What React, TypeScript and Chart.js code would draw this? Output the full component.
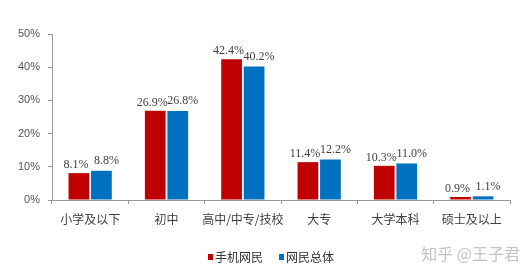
import React, { useEffect, useRef } from "react";
import { Chart, registerables } from "chart.js";

Chart.register(...registerables);

const categories = ["小学及以下", "初中", "高中/中专/技校", "大专", "大学本科", "硕士及以上"];
const mobileUsers = [8.1, 26.9, 42.4, 11.4, 10.3, 0.9];
const allUsers = [8.8, 26.8, 40.2, 12.2, 11.0, 1.1];
const seriesNames = ["手机网民", "网民总体"];
const yTicks = [0, 10, 20, 30, 40, 50];
const watermark = "知乎 @王子君";

const RED = "#C00000";
const BLUE = "#0070C0";
const CJK = '"Noto Sans CJK SC", "Noto Sans", sans-serif';

const overlayPlugin = {
  id: "overlay",
  afterDatasetsDraw(chart: any) {
    const ctx = chart.ctx;
    ctx.save();
    ctx.font = '12px "Liberation Serif", serif';
    ctx.fillStyle = "#404040";
    ctx.textAlign = "center";
    ctx.textBaseline = "bottom";
    const dx = [-3, 5];
    const dy = [2, 4];
    chart.data.datasets.forEach((ds: any, di: number) => {
      const meta = chart.getDatasetMeta(di);
      meta.data.forEach((el: any, i: number) => {
        const v = ds.data[i];
        ctx.fillText(v.toFixed(1) + "%", el.x + dx[di], el.y - dy[di]);
      });
    });
    ctx.restore();
  },
  afterDraw(chart: any) {
    const ctx = chart.ctx;
    ctx.save();
    const colors = [RED, BLUE];
    const starts = [208, 279];
    ctx.font = "12px " + CJK;
    ctx.textBaseline = "middle";
    ctx.textAlign = "left";
    seriesNames.forEach((n, i) => {
      ctx.fillStyle = colors[i];
      ctx.fillRect(starts[i], 254, 5, 6);
      ctx.fillStyle = "#333";
      ctx.fillText(n, starts[i] + 7, 257);
    });
    ctx.font = "16px " + CJK;
    ctx.fillStyle = "#c4c4c4";
    ctx.textAlign = "right";
    ctx.fillText(watermark, 520, 254);
    ctx.restore();
  },
};

export default function App() {
  const ref = useRef<HTMLCanvasElement>(null);
  useEffect(() => {
    if (!ref.current) return;
    const chart = new Chart(ref.current, {
      type: "bar",
      data: {
        labels: categories,
        datasets: [
          { label: seriesNames[0], data: mobileUsers, backgroundColor: RED, categoryPercentage: 0.59, barPercentage: 0.92 },
          { label: seriesNames[1], data: allUsers, backgroundColor: BLUE, categoryPercentage: 0.59, barPercentage: 0.92 },
        ],
      },
      options: {
        responsive: false,
        animation: false,
        layout: { padding: { top: 34, right: 18, left: 0, bottom: 0 } },
        plugins: {
          legend: { display: false },
          tooltip: { enabled: false },
        },
        scales: {
          x: {
            grid: { drawOnChartArea: false, drawTicks: true, tickLength: 4, color: "#999" },
            border: { color: "#999" },
            ticks: { color: "#404040", font: { size: 12, family: CJK }, padding: 8, maxRotation: 0, autoSkip: false },
            afterFit: (s: any) => { s.height = 78; },
          },
          y: {
            min: 0,
            max: 50,
            afterBuildTicks: (s: any) => { s.ticks = yTicks.map((v) => ({ value: v })); },
            grid: { drawOnChartArea: false, drawTicks: true, tickLength: 4, color: "#999" },
            border: { color: "#999" },
            ticks: {
              color: "#555",
              font: { size: 11, family: '"Liberation Sans", sans-serif' },
              padding: 8,
              callback: (v: any) => v + "%",
            },
            afterFit: (s: any) => { s.width = 52; },
          },
        },
      },
      plugins: [overlayPlugin],
    });
    return () => chart.destroy();
  }, []);
  return (
    <div style={{ position: "absolute", left: 0, top: 0, width: 528, height: 278, background: "#fff" }}>
      <canvas ref={ref} width={528} height={278} />
    </div>
  );
}
